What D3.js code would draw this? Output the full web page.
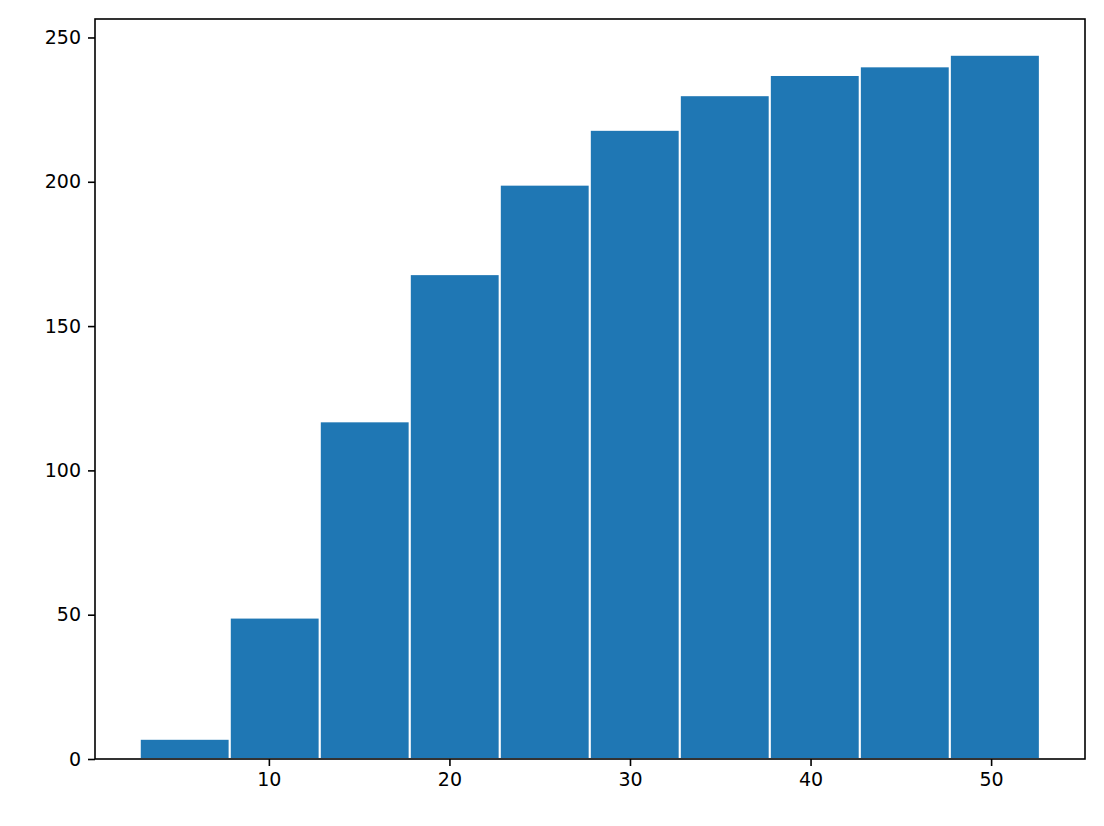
<!DOCTYPE html>
<html>
<head>
<meta charset="utf-8">
<script src="https://cdn.jsdelivr.net/npm/d3@7"></script>
<style>
  body { margin: 0; background: #fff; }
  text { font-family: "DejaVu Sans", sans-serif; }
</style>
</head>
<body>
<svg id="chart" width="1104" height="826"></svg>
<script>
// histogram bin edges and counts (cumulative)
const binStart = 2.85;
const binWidth = 4.985;
const counts = [7, 49, 117, 168, 199, 218, 230, 237, 240, 244];
const xTicks = [10, 20, 30, 40, 50];
const yTicks = [0, 50, 100, 150, 200, 250];

const svg = d3.select('#chart');
const mLeft = 95, mRight = 1085, mTop = 19, mBottom = 759;

const x = d3.scaleLinear().domain([0.37, 55.2]).range([mLeft, mRight]);
const y = d3.scaleLinear().domain([0, 256.4]).range([mBottom, mTop]);

svg.selectAll('rect.bar')
  .data(counts)
  .enter()
  .append('rect')
  .attr('class', 'bar')
  .attr('x', (d, i) => x(binStart + i * binWidth))
  .attr('width', x(binWidth) - x(0))
  .attr('y', d => y(d))
  .attr('height', d => y(0) - y(d))
  .attr('fill', '#1f77b4')
  .attr('stroke', '#fff')
  .attr('stroke-width', 2);

const xAxis = svg.append('g')
  .attr('transform', `translate(0,${mBottom})`)
  .call(d3.axisBottom(x).tickValues(xTicks).tickSize(7).tickPadding(7));
const yAxis = svg.append('g')
  .attr('transform', `translate(${mLeft},0)`)
  .call(d3.axisLeft(y).tickValues(yTicks).tickSize(7).tickPadding(7));

[xAxis, yAxis].forEach(a => {
  a.select('.domain').remove();
  a.selectAll('line').attr('stroke', '#000').attr('stroke-width', 1.6);
  a.selectAll('text').attr('font-size', 19).attr('fill', '#000')
    .attr('font-family', '"DejaVu Sans", sans-serif');
});

// frame
svg.append('rect')
  .attr('x', mLeft).attr('y', mTop)
  .attr('width', mRight - mLeft).attr('height', mBottom - mTop)
  .attr('fill', 'none').attr('stroke', '#000').attr('stroke-width', 1.6);
</script>
</body>
</html>
